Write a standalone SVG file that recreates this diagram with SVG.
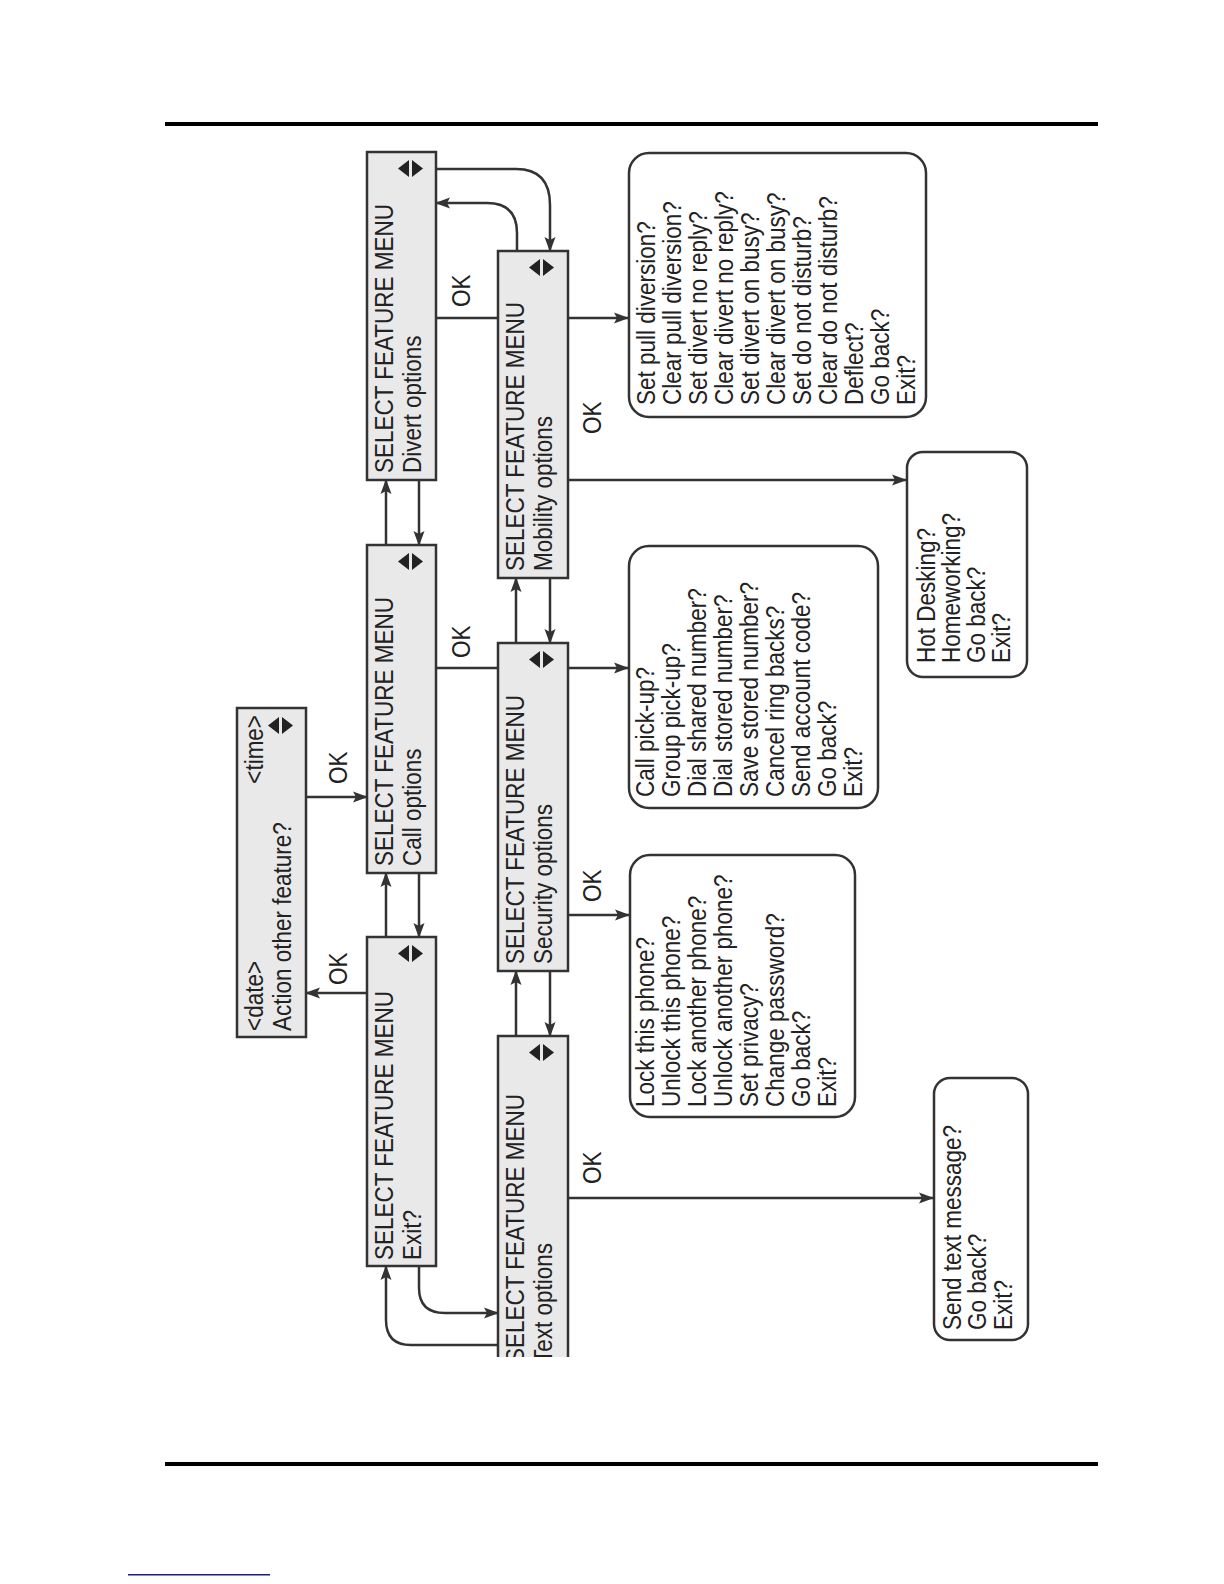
<svg xmlns="http://www.w3.org/2000/svg" xmlns:xlink="http://www.w3.org/1999/xlink" width="1224" height="1584" viewBox="0 0 1224 1584">
<style>
.t{font-family:"Liberation Sans",Arial,sans-serif;font-size:25px;fill:#222}
.box{fill:#e9e9e9;stroke:#333;stroke-width:2.5}
.list{fill:#fff;stroke:#333;stroke-width:2.5}
.c{fill:none;stroke:#333;stroke-width:2.5}
.ca{fill:none;stroke:#333;stroke-width:2.5;marker-end:url(#ah)}
</style>
<defs>
<marker id="ah" markerUnits="userSpaceOnUse" markerWidth="16" markerHeight="12" refX="14" refY="6" orient="auto">
<path d="M0,0.5 L15,6 L0,11.5 L3,6 z" fill="#333"/>
</marker>
<g id="ud">
<polygon points="0,8.5 11,0 11,17" fill="#222"/>
<polygon points="14,0 25,8.5 14,17" fill="#222"/>
</g>
<clipPath id="cut"><rect x="0" y="0" width="1224" height="1357"/></clipPath>
</defs>
<rect width="1224" height="1584" fill="#fff"/>
<rect x="165" y="122" width="933" height="4" fill="#000"/>
<rect x="165" y="1462" width="933" height="4" fill="#000"/>
<rect x="128" y="1574" width="142" height="1.5" fill="#1a1a8a"/>

<g id="connectors">
<path class="ca" d="M306,797 H367"/>
<path class="ca" d="M367,993 H306"/>
<path class="ca" d="M386,937 V873"/>
<path class="ca" d="M419,873 V937"/>
<path class="ca" d="M386,545 V480"/>
<path class="ca" d="M419,480 V545"/>
<path class="ca" d="M436,169 H516 Q550,169 550,205 V251"/>
<path class="ca" d="M517,251 V233 Q517,203 487,203 H436"/>
<path class="ca" d="M436,318 H628"/>
<path class="ca" d="M436,668 H628"/>
<path class="ca" d="M568,915 H629"/>
<path class="ca" d="M568,480 H906"/>
<path class="ca" d="M568,1198 H933"/>
<path class="ca" d="M516,643 V578"/>
<path class="ca" d="M550,578 V643"/>
<path class="ca" d="M516,1036 V971"/>
<path class="ca" d="M550,971 V1036"/>
<path class="ca" d="M419,1266 V1288 Q419,1313 445,1313 H498"/>
<path class="ca" d="M498,1345 H411 Q386,1345 386,1320 V1266"/>
<text class="t" transform="translate(347,784) rotate(-90) scale(0.9,1)">OK</text>
<text class="t" transform="translate(347,985) rotate(-90) scale(0.9,1)">OK</text>
<text class="t" transform="translate(470,307) rotate(-90) scale(0.9,1)">OK</text>
<text class="t" transform="translate(470,658) rotate(-90) scale(0.9,1)">OK</text>
<text class="t" transform="translate(601,434) rotate(-90) scale(0.9,1)">OK</text>
<text class="t" transform="translate(601,902) rotate(-90) scale(0.9,1)">OK</text>
<text class="t" transform="translate(601,1184) rotate(-90) scale(0.9,1)">OK</text>
</g>

<g id="idle">
<rect class="box" x="237" y="708" width="69" height="329"/>
<text class="t" transform="translate(263,1031) rotate(-90) scale(0.9,1)">&lt;date&gt;</text>
<text class="t" transform="translate(291,1031) rotate(-90) scale(0.9,1)">Action other feature?</text>
<text class="t" text-anchor="end" transform="translate(263,715) rotate(-90) scale(0.9,1)">&lt;time&gt;</text>
<use xlink:href="#ud" href="#ud" transform="translate(268,717)"/>
</g>

<g id="menu-exit">
<rect class="box" x="367" y="937" width="69" height="329"/>
<text class="t" transform="translate(393,1260) rotate(-90) scale(0.9,1)">SELECT FEATURE MENU</text>
<text class="t" transform="translate(421,1260) rotate(-90) scale(0.9,1)">Exit?</text>
<use xlink:href="#ud" href="#ud" transform="translate(398,945)"/>
</g>

<g id="menu-call">
<rect class="box" x="367" y="545" width="69" height="328"/>
<text class="t" transform="translate(393,866) rotate(-90) scale(0.9,1)">SELECT FEATURE MENU</text>
<text class="t" transform="translate(421,866) rotate(-90) scale(0.9,1)">Call options</text>
<use xlink:href="#ud" href="#ud" transform="translate(398,553)"/>
</g>

<g id="menu-divert">
<rect class="box" x="367" y="152" width="69" height="328"/>
<text class="t" transform="translate(393,473) rotate(-90) scale(0.9,1)">SELECT FEATURE MENU</text>
<text class="t" transform="translate(421,473) rotate(-90) scale(0.9,1)">Divert options</text>
<use xlink:href="#ud" href="#ud" transform="translate(398,160)"/>
</g>

<g id="menu-mobility">
<rect class="box" x="498" y="251" width="70" height="327"/>
<text class="t" transform="translate(524,571) rotate(-90) scale(0.9,1)">SELECT FEATURE MENU</text>
<text class="t" transform="translate(552,571) rotate(-90) scale(0.9,1)">Mobility options</text>
<use xlink:href="#ud" href="#ud" transform="translate(529,259)"/>
</g>

<g id="menu-security">
<rect class="box" x="498" y="643" width="70" height="328"/>
<text class="t" transform="translate(524,964) rotate(-90) scale(0.9,1)">SELECT FEATURE MENU</text>
<text class="t" transform="translate(552,964) rotate(-90) scale(0.9,1)">Security options</text>
<use xlink:href="#ud" href="#ud" transform="translate(529,651)"/>
</g>

<g id="menu-text" clip-path="url(#cut)">
<rect x="498" y="1036" width="70" height="330" fill="#e9e9e9"/>
<path class="c" d="M498,1360 V1036 H568 V1360"/>
<text class="t" transform="translate(524,1363) rotate(-90) scale(0.9,1)">SELECT FEATURE MENU</text>
<text class="t" transform="translate(552,1363) rotate(-90) scale(0.9,1)">Text options</text>
<use xlink:href="#ud" href="#ud" transform="translate(529,1044)"/>
</g>

<g id="list-divert">
<rect class="list" x="629" y="153" width="297" height="264" rx="20"/>
<text class="t" transform="translate(655,405) rotate(-90) scale(0.9,1)"><tspan x="0" y="0">Set pull diversion?</tspan><tspan x="0" y="26">Clear pull diversion?</tspan><tspan x="0" y="52">Set divert no reply?</tspan><tspan x="0" y="78">Clear divert no reply?</tspan><tspan x="0" y="104">Set divert on busy?</tspan><tspan x="0" y="130">Clear divert on busy?</tspan><tspan x="0" y="156">Set do not disturb?</tspan><tspan x="0" y="182">Clear do not disturb?</tspan><tspan x="0" y="208">Deflect?</tspan><tspan x="0" y="234">Go back?</tspan><tspan x="0" y="260">Exit?</tspan></text>
</g>

<g id="list-call">
<rect class="list" x="629" y="546" width="249" height="262" rx="20"/>
<text class="t" transform="translate(654,797) rotate(-90) scale(0.9,1)"><tspan x="0" y="0">Call pick-up?</tspan><tspan x="0" y="26">Group pick-up?</tspan><tspan x="0" y="52">Dial shared number?</tspan><tspan x="0" y="78">Dial stored number?</tspan><tspan x="0" y="104">Save stored number?</tspan><tspan x="0" y="130">Cancel ring backs?</tspan><tspan x="0" y="156">Send account code?</tspan><tspan x="0" y="182">Go back?</tspan><tspan x="0" y="208">Exit?</tspan></text>
</g>

<g id="list-security">
<rect class="list" x="630" y="855" width="225" height="262" rx="20"/>
<text class="t" transform="translate(654,1107) rotate(-90) scale(0.9,1)"><tspan x="0" y="0">Lock this phone?</tspan><tspan x="0" y="26">Unlock this phone?</tspan><tspan x="0" y="52">Lock another phone?</tspan><tspan x="0" y="78">Unlock another phone?</tspan><tspan x="0" y="104">Set privacy?</tspan><tspan x="0" y="130">Change password?</tspan><tspan x="0" y="156">Go back?</tspan><tspan x="0" y="182">Exit?</tspan></text>
</g>

<g id="list-mobility">
<rect class="list" x="907" y="452" width="120" height="225" rx="16"/>
<text class="t" transform="translate(935,663) rotate(-90) scale(0.9,1)"><tspan x="0" y="0">Hot Desking?</tspan><tspan x="0" y="25">Homeworking?</tspan><tspan x="0" y="50">Go back?</tspan><tspan x="0" y="75">Exit?</tspan></text>
</g>

<g id="list-text">
<rect class="list" x="934" y="1078" width="94" height="262" rx="16"/>
<text class="t" transform="translate(961,1330) rotate(-90) scale(0.9,1)"><tspan x="0" y="0">Send text message?</tspan><tspan x="0" y="25.5">Go back?</tspan><tspan x="0" y="51">Exit?</tspan></text>
</g>
</svg>
